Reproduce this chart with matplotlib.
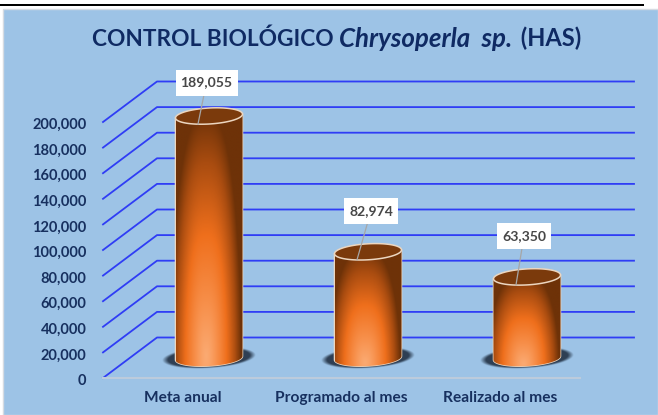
import numpy as np
import matplotlib
matplotlib.use("Agg")
import matplotlib.pyplot as plt
from matplotlib.colors import LinearSegmentedColormap
from matplotlib.patches import PathPatch, Rectangle
from matplotlib.path import Path
from matplotlib.transforms import ScaledTranslation

categorias = ["Meta anual", "Programado al mes", "Realizado al mes"]
valores = [189055, 82974, 63350]
ticks = [0, 20000, 40000, 60000, 80000, 100000, 120000, 140000, 160000, 180000, 200000]

# escala en pixeles
W, H = 658, 415
PX_X = 159
PX_Y = 256 / 200000
AZUL = "#9dc3e6"
LINEA = "#2f3df5"
TEXTO = "#17305f"

plt.rcParams["font.family"] = ["Lato", "DejaVu Sans"]

fig = plt.figure(figsize=(W / 100, H / 100), dpi=100, facecolor="white")

# marco y linea negra de arriba
fig.add_artist(Rectangle((3 / W, 0), 655 / W, 406 / H, transform=fig.transFigure,
                         fc=AZUL, ec="#d5dbe2", lw=1, zorder=-2))
fig.add_artist(Rectangle((0, 1 - 6.3 / H), 644 / W, 2.3 / H, transform=fig.transFigure,
                         fc="black", ec="none", zorder=-2))

ax = fig.add_axes([103 / W, (H - 378) / H, 477 / W, 256 / H])
ax.set_xlim(0, 3)
ax.set_ylim(0, 200000)
ax.patch.set_visible(False)


def dx(px):
    return px / PX_X


def dy(px):
    return px / PX_Y


# pared de fondo
for t in ticks:
    ax.plot([0, dx(54), dx(531)], [t, t + dy(40.5), t + dy(40.5)], color=LINEA,
            lw=1.3, clip_on=False, zorder=1, solid_joinstyle="round")

for lado in ["top", "right", "left"]:
    ax.spines[lado].set_visible(False)
ax.spines["bottom"].set_color("#bccbdc")
ax.spines["bottom"].set_linewidth(1.5)

ax.set_yticks(ticks)
ax.set_yticklabels([f"{t:,}" for t in ticks])
ax.set_xticks(np.arange(3) + 0.5)
ax.set_xticklabels(categorias)
ax.tick_params(axis="y", length=0, pad=12, labelsize=10.5, labelcolor=TEXTO)
ax.tick_params(axis="x", length=0, pad=9.5, labelsize=11.2, labelcolor=TEXTO)
for lab in ax.get_xticklabels() + ax.get_yticklabels():
    lab.set_fontweight("bold")
for lab in ax.get_yticklabels():
    lab.set_transform(lab.get_transform() + ScaledTranslation(0, -1.5 / 100, fig.dpi_scale_trans))

cmap = LinearSegmentedColormap.from_list(
    "cilindro",
    [(0, "#fbaa72"), (0.22, "#f78f4a"), (0.5, "#ef6f1c"), (0.8, "#a94c10"), (1, "#6e3208")],
)
cmap_sombra = LinearSegmentedColormap.from_list(
    "sombra", [(0.16, 0.22, 0.30, 0.95), (0.16, 0.22, 0.30, 0.95), (0.16, 0.22, 0.30, 0)]
)

A = 33.5
B = 8
TILT = np.tan(np.radians(3.2))
BASE_X = 26.5
BASE_Y = 20
# posicion de las etiquetas respecto a la tapa (px)
etiquetas_dx = [-2.5, 3, -3]
etiquetas_dy = [33.5, 41, 41]
tam = np.linspace(0, 2 * np.pi, 100)


def elipse_xy(cx, cy, a, b):
    px = a * np.cos(tam)
    py = b * np.sin(tam) + px * TILT
    return cx + dx(px), cy + dy(py)


renderer = fig.canvas.get_renderer()

for i, (cat, v) in enumerate(zip(categorias, valores)):
    cx = i + 0.5 + dx(BASE_X)
    y0 = dy(BASE_Y)
    y1 = v + y0

    # sombra
    ext = [cx - dx(50), cx + dx(50), y0 - dy(14), y0 + dy(14)]
    xx, yy = np.meshgrid(np.linspace(-50, 50, 200), np.linspace(-14, 14, 60))
    d = np.sqrt((xx / 47) ** 2 + ((yy - xx * TILT) / 10.5) ** 2)
    ax.imshow(np.clip((d - 0.75) / 0.25, 0, 1), extent=ext, origin="lower", cmap=cmap_sombra,
              vmin=0, vmax=1, aspect="auto", zorder=2, clip_on=False, interpolation="bilinear")

    # cuerpo del cilindro
    ang = np.linspace(0, np.pi, 60)
    pxb = A * np.cos(ang)
    x_abajo = cx + dx(pxb)
    y_abajo = y0 + dy(-B * np.sin(ang) + pxb * TILT)
    pxt = A * np.cos(ang[::-1])
    x_arriba = cx + dx(pxt)
    y_arriba = y1 + dy(pxt * TILT)
    verts = np.column_stack([np.r_[x_abajo, x_arriba], np.r_[y_abajo, y_arriba]])
    cuerpo = PathPatch(Path(np.vstack([verts, verts[0]]), closed=True), fc="none",
                       ec="#ecd6c0", lw=1.1, zorder=3, clip_on=False)
    ax.add_patch(cuerpo)

    u, w = np.meshgrid(np.linspace(-1, 1, 120), np.linspace(-0.05, 1.05, 200))
    t = np.sqrt((np.abs(u + 0.1) / 1.05) ** 2.6 + (w / 1.05) ** 2)
    im = ax.imshow(t, extent=[cx - dx(A), cx + dx(A), y0 - dy(B + 2.5), y1 + dy(2.5)],
                   origin="lower", cmap=cmap, vmin=0, vmax=1, aspect="auto", zorder=3,
                   interpolation="bilinear")
    im.set_clip_box(fig.bbox)
    im.set_clip_path(cuerpo)

    # tapa
    ex, ey = elipse_xy(cx, y1, A, B)
    ax.fill(ex, ey, fc="#7b3a0c", ec="#ecd6c0", lw=1.1, zorder=4, clip_on=False)

    # etiqueta de valor con linea guia
    lx = cx + dx(etiquetas_dx[i])
    ly = y1 + dy(etiquetas_dy[i])
    ax.plot([lx, cx + dx(-11)], [ly, y1 + dy(-8)], color="#a6a6a6", lw=0.9, zorder=5, clip_on=False)
    txt = ax.text(lx, ly, f"{v:,}", ha="center", va="center", fontsize=10.1, fontweight="bold",
                  color="#474747", zorder=7, clip_on=False)
    ancho = txt.get_window_extent(renderer).width + 10
    ax.add_patch(Rectangle((lx - dx(ancho / 2), ly - dy(13)), dx(ancho), dy(26), fc="white",
                           ec="none", zorder=6, clip_on=False))

ax.set_xlim(0, 3)
ax.set_ylim(0, 200000)

# titulo en partes por la cursiva
t1 = fig.text(92 / W, 1 - 46 / H, "CONTROL BIOLÓGICO ", fontsize=16.3, fontweight="bold",
              color="#0f2a63", ha="left", va="baseline")
t2 = ax.annotate("Chrysoperla  sp.", xy=(1, 0), xycoords=t1, xytext=(0, -1),
                 textcoords="offset points", fontsize=18.6, fontweight="bold", style="italic",
                 color="#0f2a63", ha="left", va="bottom", annotation_clip=False)
t3 = ax.annotate(" (HAS)", xy=(1, 0), xycoords=t2, xytext=(2, 1),
                 textcoords="offset points", fontsize=17, fontweight="bold",
                 color="#0f2a63", ha="left", va="bottom", annotation_clip=False)

fig.savefig("out.png", dpi=100, facecolor=fig.get_facecolor())
